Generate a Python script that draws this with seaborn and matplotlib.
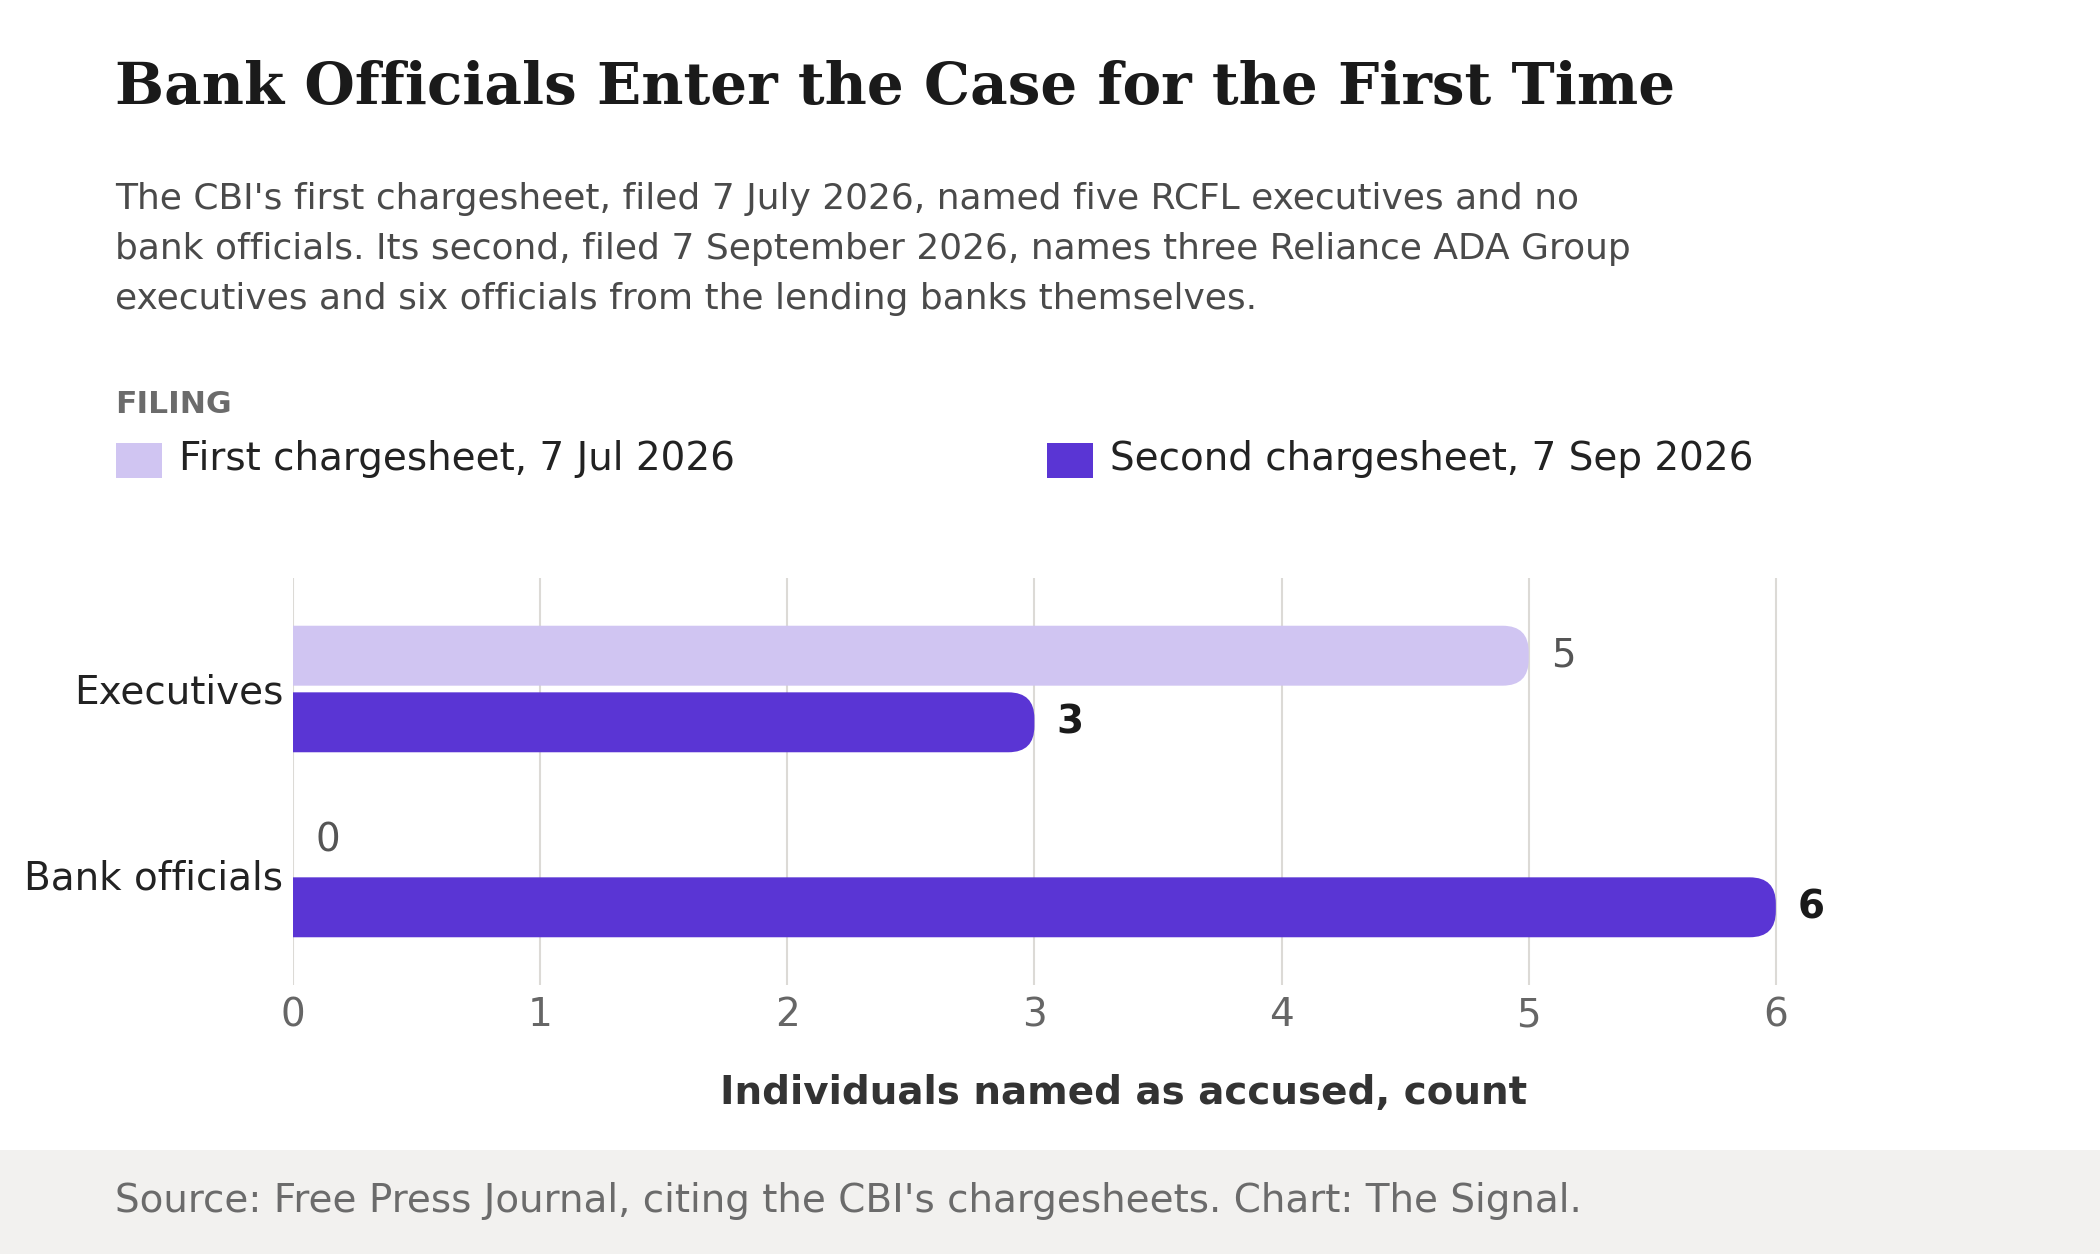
import matplotlib
matplotlib.use("Agg")
import numpy as np
import pandas as pd
import matplotlib.pyplot as plt
import seaborn as sns
from matplotlib.patches import FancyBboxPatch, Rectangle

# ---------------- data ----------------
categories = ["Executives", "Bank officials"]
series = ["First chargesheet, 7 Jul 2026", "Second chargesheet, 7 Sep 2026"]
first_values = [5, 0]
second_values = [3, 6]
x_ticks = [0, 1, 2, 3, 4, 5, 6]

title = "Bank Officials Enter the Case for the First Time"
subtitle_lines = [
    "The CBI's first chargesheet, filed 7 July 2026, named five RCFL executives and no",
    "bank officials. Its second, filed 7 September 2026, names three Reliance ADA Group",
    "executives and six officials from the lending banks themselves.",
]
legend_title = "FILING"
x_label = "Individuals named as accused, count"
source = "Source: Free Press Journal, citing the CBI's chargesheets. Chart: The Signal."

colors = ["#D0C5F2", "#5A35D4"]

df = pd.DataFrame({
    "category": categories * 2,
    "filing": [series[0]] * len(categories) + [series[1]] * len(categories),
    "count": first_values + second_values,
})

# ---------------- figure ----------------
W, H, DPI = 2100, 1254, 200
sns.set_theme(style="white")
plt.rcParams["font.family"] = ["DejaVu Sans"]

fig = plt.figure(figsize=(W / DPI, H / DPI), dpi=DPI)
fig.patch.set_facecolor("white")


def fx(px):
    return px / W


def fy(py):
    return 1 - py / H


# footer band
fig.add_artist(Rectangle((0, 0), 1, fy(1150), transform=fig.transFigure,
                         facecolor="#F2F1EF", edgecolor="none", zorder=0))

ax = fig.add_axes([fx(293), fy(985), fx(1955) - fx(293), fy(578) - fy(985)])
ax.set_facecolor("none")

sns.barplot(data=df, y="category", x="count", hue="filing",
            order=categories, hue_order=series, palette=colors,
            orient="h", width=0.72, gap=0.1, saturation=1,
            legend=False, ax=ax)

ax.set_xlim(0, 6.725)
ax.set_ylim(1.6, -0.6)
ax.set_xticks(x_ticks)
ax.set_xticklabels([str(t) for t in x_ticks])
ax.grid(axis="x", color="#DCDAD6", linewidth=0.75)
ax.grid(axis="y", visible=False)
ax.set_axisbelow(True)
for s in ax.spines.values():
    s.set_visible(False)
ax.tick_params(axis="x", length=0, pad=4, labelsize=14, labelcolor="#666666")
ax.tick_params(axis="y", length=0, pad=3.6, labelsize=14, labelcolor="#222222")
ax.set_ylabel("")
ax.set_xlabel(x_label, fontsize=14, fontweight="bold", color="#333333", labelpad=14.5)

# value labels
label_styles = [dict(color="#555555", fontweight="normal"),
                dict(color="#1A1A1A", fontweight="bold")]
for container, st in zip(ax.containers, label_styles):
    ax.bar_label(container, fmt="%g", padding=8, fontsize=14, **st)

# rounded right ends
p0 = ax.transData.transform((0, 0))
p1 = ax.transData.transform((1, 1))
ppx = abs(p1[0] - p0[0])
ppy = abs(p1[1] - p0[1])
r_px = 26
rx = r_px / ppx
aspect = ppx / ppy
for container in ax.containers:
    for bar in container:
        x, y = bar.get_x(), bar.get_y()
        w, h = bar.get_width(), bar.get_height()
        fc = bar.get_facecolor()
        bar.set_visible(False)
        if w <= 0:
            continue
        fb = FancyBboxPatch((x - rx, y), w + rx, h,
                            boxstyle=f"round,pad=0,rounding_size={rx}",
                            mutation_aspect=aspect, facecolor=fc,
                            edgecolor="none", zorder=3)
        ax.add_patch(fb)

# ---------------- header text ----------------
fig.text(fx(115), fy(104), title, family="DejaVu Serif", fontweight="bold",
         fontsize=20.87, color="#1A1A1A", va="baseline", ha="left")
for i, line in enumerate(subtitle_lines):
    fig.text(fx(115), fy(209 + 50 * i), line, fontsize=12.94, color="#4A4A4A",
             va="baseline", ha="left")

fig.text(fx(115), fy(413), legend_title, fontsize=11.3, fontweight="bold",
         color="#6B6B6B", va="baseline", ha="left")

legend_x = [116, 1047]
for lx, name, col in zip(legend_x, series, colors):
    fig.add_artist(Rectangle((fx(lx), fy(478)), fx(46), fy(443) - fy(478),
                             transform=fig.transFigure, facecolor=col,
                             edgecolor="none"))
    fig.text(fx(lx + 63), fy(470), name, fontsize=14, color="#222222",
             va="baseline", ha="left")

fig.text(fx(115), fy(1212), source, fontsize=14.02, color="#6B6B6B",
         va="baseline", ha="left")

fig.savefig("out.png", dpi=DPI)
